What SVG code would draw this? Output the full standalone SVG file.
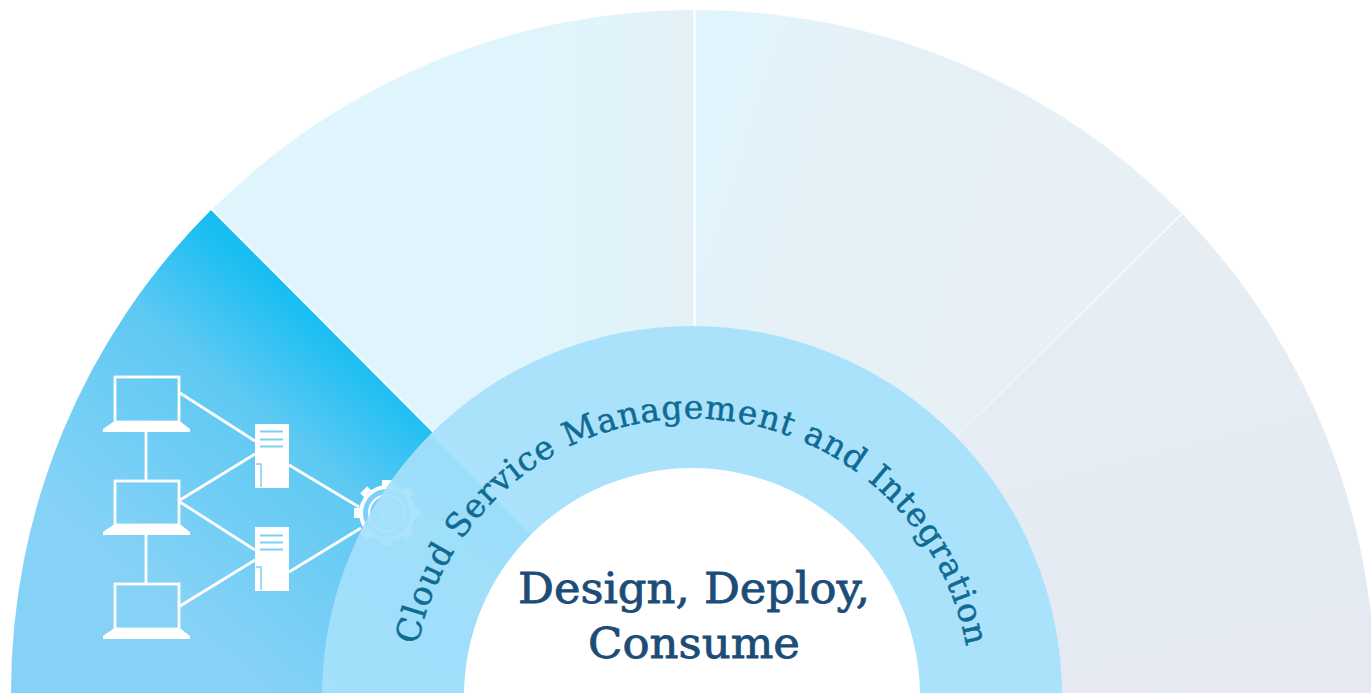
<svg xmlns="http://www.w3.org/2000/svg" width="1371" height="693" viewBox="0 0 1371 693">
<style>
.w{fill:none;stroke:#fff;stroke-width:2.800}
.f{fill:#fff}
.t{font-family:"DejaVu Serif","Liberation Serif",serif}
</style>
<defs>
<linearGradient id="g1" gradientUnits="userSpaceOnUse" x1="315" y1="315" x2="115" y2="555"><stop offset="0" stop-color="#18bef2"/><stop offset=".35" stop-color="#5ec9f3"/><stop offset="1" stop-color="#86d2f7"/></linearGradient>
<linearGradient id="g2" gradientUnits="userSpaceOnUse" x1="400" y1="200" x2="694" y2="200"><stop offset="0" stop-color="#e0f5fe"/><stop offset=".6" stop-color="#e0f4fc"/><stop offset="1" stop-color="#e4f1f7"/></linearGradient>
<linearGradient id="g3" gradientUnits="userSpaceOnUse" x1="696" y1="150" x2="1000" y2="250"><stop offset="0" stop-color="#e1f4fd"/><stop offset=".4" stop-color="#e5f1f7"/><stop offset="1" stop-color="#e6f0f5"/></linearGradient>
<linearGradient id="g4" gradientUnits="userSpaceOnUse" x1="1100" y1="300" x2="1200" y2="693"><stop offset="0" stop-color="#e6eef4"/><stop offset="1" stop-color="#e4e9f2"/></linearGradient>
<path id="arc" d="M418,645 A279,279 0 0 1 966,645"/>
</defs>
<rect width="1371" height="693" fill="#fff"/>
<g id="segments">
<path id="seg-wedge" d="M11,693 A681,681 0 0 1 211,210 L692,693 Z" fill="url(#g1)"/>
<path id="seg-2" d="M212.500,209 A681,681 0 0 1 693.500,10 L693.500,693 Z" fill="url(#g2)"/>
<path id="seg-3" d="M695.500,10 A683,683 0 0 1 1181.500,213 L696,696 Z" fill="url(#g3)"/>
<path id="seg-4" d="M1182.500,214 A683,683 0 0 1 1375,693 L698,693 Z" fill="url(#g4)"/>
</g>
<g id="gear">
<g class="f" transform="translate(387,513)">
<rect x="-5" y="-33" width="10" height="66"/>
<rect x="-5" y="-33" width="10" height="66" transform="rotate(45)"/>
<rect x="-5" y="-33" width="10" height="66" transform="rotate(90)"/>
<rect x="-5" y="-33" width="10" height="66" transform="rotate(135)"/>
<circle r="28"/>
</g>
<circle cx="387" cy="513" r="24" fill="#7fd0f6"/>
<circle cx="387" cy="513" r="18" fill="none" stroke="#fff" stroke-width="2"/>
<circle cx="387" cy="513" r="8" fill="#fff" opacity=".5"/>
</g>
<g id="connectors" class="w">
<path d="M180,393L255,441M180,500L255,454M180,502L255,550M180,606L255,560M289,465L359,507M289,572L361,528M146,432V481M146,535V584"/>
</g>
<g id="laptop-1">
<rect class="w" x="115" y="377" width="64" height="45"/>
<path class="f" d="M113,422H181L190,429V432H103V429Z"/>
</g>
<g id="laptop-2">
<rect class="w" x="115" y="481" width="64" height="44"/>
<path class="f" d="M113,525H181L190,532V535H103V532Z"/>
</g>
<g id="laptop-3">
<rect class="w" x="115" y="584" width="64" height="45"/>
<path class="f" d="M113,629H181L190,636V639H103V636Z"/>
</g>
<g id="server-1">
<rect class="f" x="255" y="424" width="34" height="64"/>
<path d="M260,431.500H283M260,439.500H283M260,446.500H283" stroke="#7fd0f6" stroke-width="2"/>
<path d="M256,464H261V487" fill="none" stroke="#7fd0f6" stroke-width="1.500"/>
</g>
<g id="server-2">
<rect class="f" x="255" y="527" width="34" height="64"/>
<path d="M260,535.500H283M260,542.500H283M260,549.500H283" stroke="#7fd0f6" stroke-width="2"/>
<path d="M256,567H261V590" fill="none" stroke="#7fd0f6" stroke-width="1.500"/>
</g>
<g id="ring">
<path d="M692,696 L430.400,434.400 A370,370 0 0 1 1062,696 Z" fill="#e3f3fa"/>
<circle cx="692" cy="696" r="370" fill="#a5e1fb" opacity=".92"/>
<circle cx="692" cy="696" r="228" fill="#fff"/>
<text class="t" font-size="33" fill="#0f6b93" stroke="#0f6b93" stroke-width=".5"><textPath href="#arc" startOffset="0" textLength="772" lengthAdjust="spacing">Cloud Service Management and Integration</textPath></text>
</g>
<g id="center" class="t" fill="#1c4c78" stroke="#1c4c78" stroke-width=".8" font-size="43" text-anchor="middle">
<text x="694" y="603" textLength="352" lengthAdjust="spacingAndGlyphs">Design, Deploy,</text>
<text x="694" y="658" textLength="212" lengthAdjust="spacingAndGlyphs">Consume</text>
</g>
</svg>
